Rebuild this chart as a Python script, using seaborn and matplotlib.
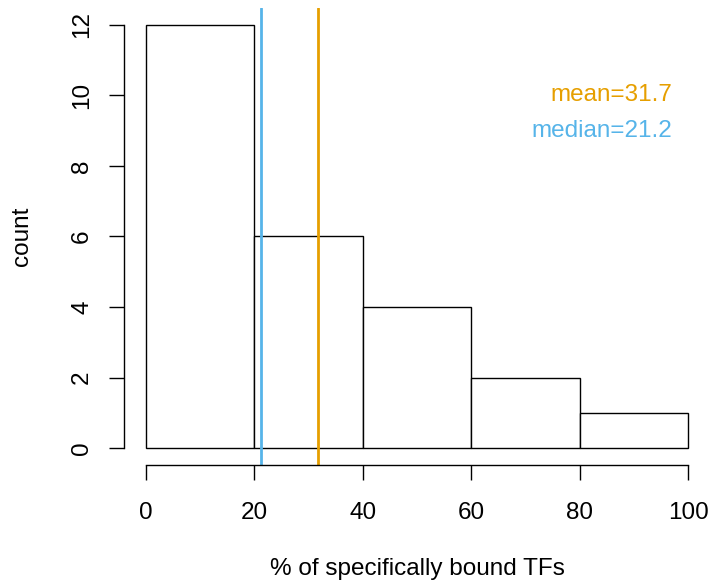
import numpy as np
import matplotlib
matplotlib.use("Agg")
import matplotlib.pyplot as plt
import seaborn as sns

# histogram of % specifically bound TFs (bin counts)
bin_edges = [0, 20, 40, 60, 80, 100]
bin_counts = [12, 6, 4, 2, 1]
mean_val = 31.7
median_val = 21.2

x_ticks = [0, 20, 40, 60, 80, 100]
y_ticks = [0, 2, 4, 6, 8, 10, 12]

sns.set_style("white")
plt.rcParams["font.family"] = ["Liberation Sans", "DejaVu Sans"]
fs = 17.5

mids = [(a + b) / 2 for a, b in zip(bin_edges[:-1], bin_edges[1:])]

fig = plt.figure(figsize=(7.11, 5.85), dpi=100)
ax = fig.add_axes([124 / 711, 1 - 465 / 585, (710 - 124) / 711, (465 - 8) / 585])

sns.histplot(x=mids, weights=bin_counts, bins=bin_edges, ax=ax,
             color="white", edgecolor="black", linewidth=1, alpha=1)

ax.axvline(median_val, color="#56B4E9", lw=2)
ax.axvline(mean_val, color="#E69F00", lw=2)

ax.text(97, 10, f"mean={mean_val}", ha="right", va="center",
        color="#E69F00", fontsize=fs)
ax.text(97, 9, f"median={median_val}", ha="right", va="center",
        color="#56B4E9", fontsize=fs)

ax.set_xlim(-4, 104)
ax.set_ylim(-0.48, 12.48)
ax.set_xticks(x_ticks)
ax.set_yticks(y_ticks)

for s in ["top", "right"]:
    ax.spines[s].set_visible(False)
ax.spines["left"].set_bounds(0, 12)
ax.spines["bottom"].set_bounds(0, 100)
for s in ["left", "bottom"]:
    ax.spines[s].set_linewidth(1)
    ax.spines[s].set_color("black")

ax.tick_params(axis="both", direction="out", length=10.8, width=1,
               colors="black", labelsize=fs, left=True, bottom=True)
ax.tick_params(axis="x", pad=15.8)
ax.tick_params(axis="y", pad=11.5, labelrotation=90)
for lab in ax.get_yticklabels():
    lab.set_verticalalignment("center")

ax.set_xlabel("% of specifically bound TFs", fontsize=fs, color="black")
ax.set_ylabel("count", fontsize=fs, color="black")
ax.xaxis.set_label_coords(0.5, -0.204)
ax.yaxis.set_label_coords(-0.155, 0.5)

fig.savefig("out.png", dpi=100)
